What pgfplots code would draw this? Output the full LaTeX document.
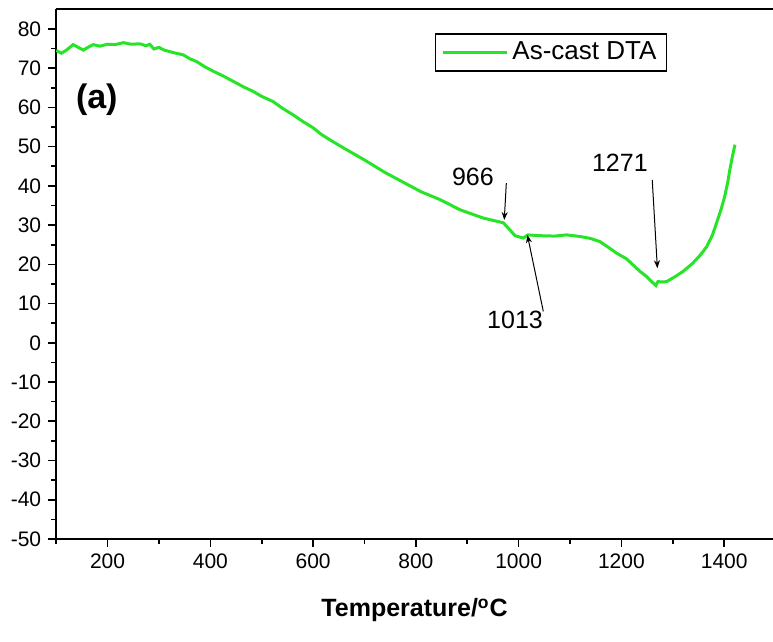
\documentclass[border=0pt]{standalone}
\usepackage{pgfplots}
\pgfplotsset{compat=1.18}
\usepackage{fontspec}
\setmainfont{Liberation Sans}
\usetikzlibrary{arrows.meta}
\definecolor{dtagreen}{RGB}{40,228,40}

\begin{document}
\begin{tikzpicture}
\begin{axis}[
scale only axis,
width=358.4pt,
height=264.85pt,
xmin=100, xmax=1495,
ymin=-50, ymax=85,
xtick={200,400,...,1400},
minor xtick={100,300,...,1300},
ytick={-50,-40,...,80},
minor ytick={-45,-35,...,75},
axis x line=box,
axis y line=left,
axis line style={-, line width=0.9pt},
xtick pos=lower, ytick pos=left,
tick align=outside,
major tick length=4pt,
minor tick length=2.5pt,
tick style={black, line width=0.8pt},
ticklabel style={font=\fontsize{10.5}{12}\selectfont},
/pgf/number format/assume math mode=true,
/pgf/number format/1000 sep={},
xlabel={\bfseries Temperature/\textsuperscript{o}C},
xlabel style={font=\fontsize{12.5}{14}\selectfont, yshift=-8pt},
legend style={at={(0.528,0.955)}, anchor=north west, draw=black, line width=0.8pt,
  font=\fontsize{13}{15}\selectfont, inner xsep=3pt, inner ysep=2pt},
legend image code/.code={\draw[#1] (0pt,0pt) -- (32pt,0pt);},
]
\addplot[color=dtagreen, line width=1.5pt] coordinates {
(100,74.5) (110,73.8) (120,74.6) (133,76.0) (143,75.3) (153,74.6) (163,75.4)
(172,76.0) (185,75.6) (200,76.1) (215,76.0) (231,76.5) (245,76.1) (263,76.2)
(275,75.7) (282,76.1) (290,74.9) (300,75.3) (310,74.6) (330,73.9) (347,73.4)
(360,72.4) (373,71.7) (390,70.3) (406,69.2) (425,68.0) (445,66.6) (465,65.2)
(483,64.1) (500,62.8) (522,61.5) (540,59.8) (561,58.1) (580,56.4) (600,54.8)
(615,53.2) (633,51.7) (660,49.6) (700,46.6) (740,43.4) (780,40.6) (810,38.5)
(847,36.5) (886,33.9) (931,31.8) (950,31.2) (970,30.6) (980,29.2) (993,27.3)
(1009,26.7) (1018,27.5) (1041,27.3) (1070,27.2) (1093,27.5) (1119,27.1)
(1140,26.6) (1158,25.8) (1175,24.3) (1190,22.9) (1210,21.4) (1236,18.2)
(1249,16.9) (1262,15.2) (1267,14.6) (1271,15.6) (1280,15.5) (1288,15.6)
(1305,16.9) (1320,18.2) (1339,20.3) (1355,22.6) (1366,24.5) (1377,27.4)
(1385,30.5) (1394,34.0) (1401,37.3) (1407,41.0) (1411,44.1) (1416,47.5)
(1421,50.5)
};
\addlegendentry{As-cast DTA}
\coordinate (ll) at (rel axis cs:0,0);
\coordinate (ur) at (rel axis cs:1,1);
\node[font=\fontsize{17}{20}\selectfont\bfseries] at (axis cs:179,61.9) {(a)};
\node[font=\fontsize{12.5}{14}\selectfont] at (axis cs:911,42.4) {966};
\node[font=\fontsize{12.5}{14}\selectfont] at (axis cs:993,5.9) {1013};
\node[font=\fontsize{12.5}{14}\selectfont] at (axis cs:1197,45.8) {1271};
\draw[-{Stealth[length=4pt,width=3pt]}, line width=0.5pt] (axis cs:976,40.7) -- (axis cs:972,31.3);
\draw[-{Stealth[length=4pt,width=3pt]}, line width=0.5pt] (axis cs:1048,8) -- (axis cs:1017,27.5);
\draw[-{Stealth[length=4pt,width=3pt]}, line width=0.5pt] (axis cs:1260,41.5) -- (axis cs:1270,19);
\end{axis}
\pgfresetboundingbox
\path[use as bounding box] ([shift={(-28.1pt,-51.5pt)}]ll) rectangle ([shift={(0pt,4.65pt)}]ur);
\end{tikzpicture}
\end{document}
